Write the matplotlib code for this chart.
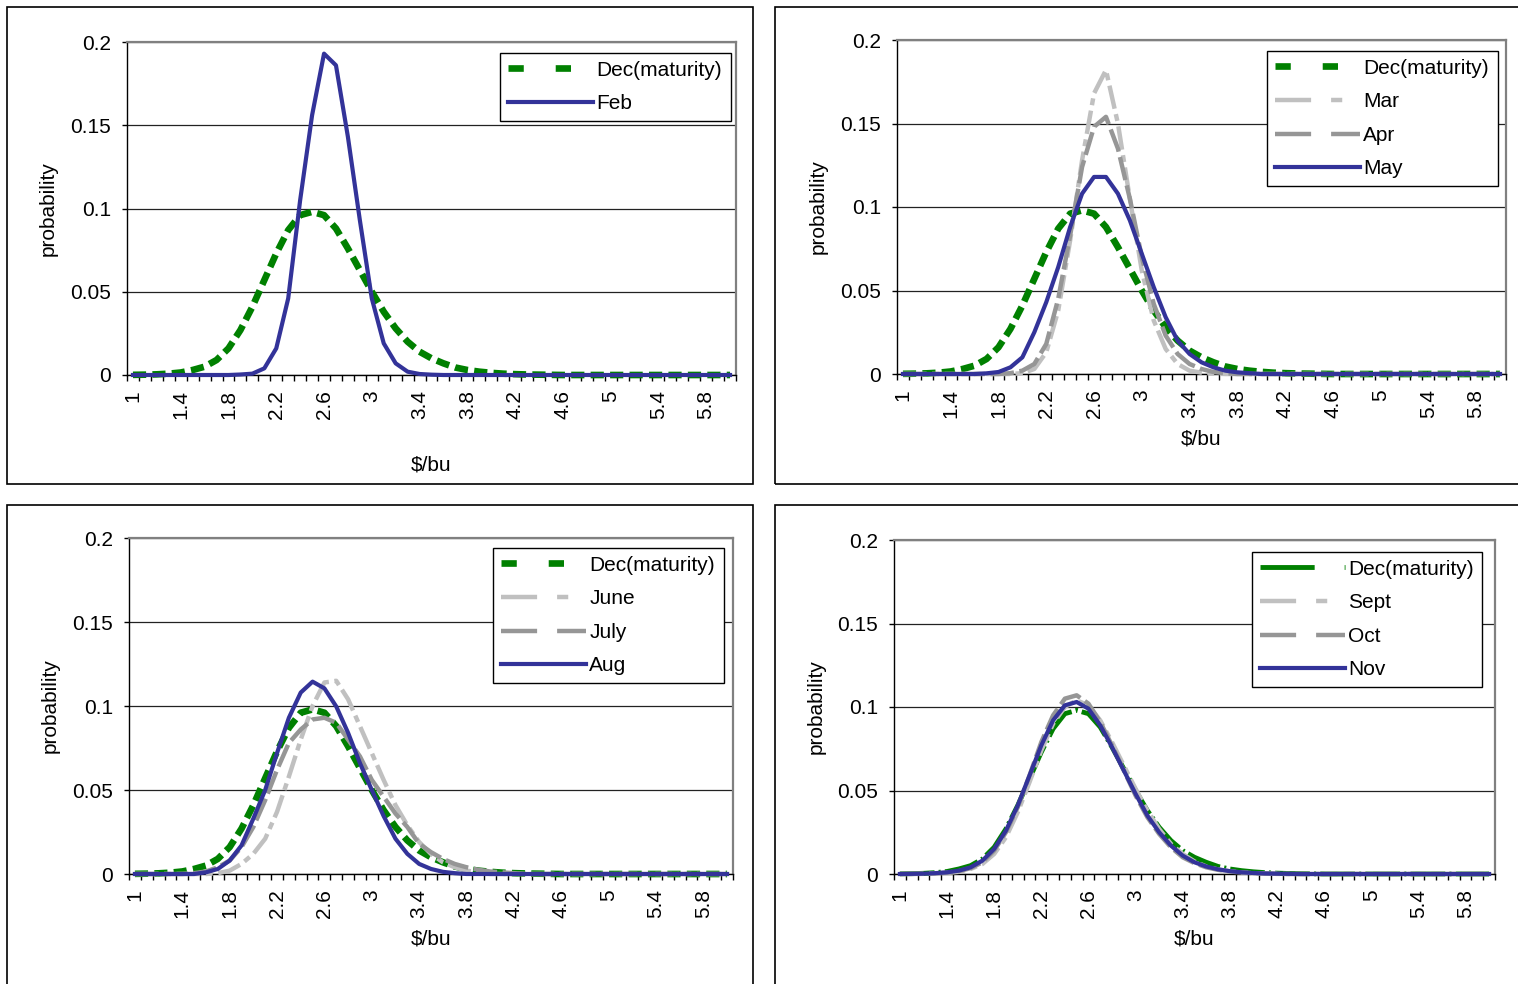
import numpy as np
import matplotlib
matplotlib.use("Agg")
import matplotlib.pyplot as plt
from matplotlib.patches import Rectangle
from matplotlib.lines import Line2D

plt.rcParams['font.family'] = ['Liberation Sans', 'DejaVu Sans']
plt.rcParams['lines.scale_dashes'] = False

# price categories ($/bu), 1.0 .. 6.0 in steps of 0.1
price = [round(1 + 0.1*k, 1) for k in range(51)]
xtick_labels = ['1','1.4','1.8','2.2','2.6','3','3.4','3.8','4.2','4.6','5','5.4','5.8']
ytick_values = [0, 0.05, 0.1, 0.15, 0.2]
ytick_labels = ['0', '0.05', '0.1', '0.15', '0.2']

# probability
dec = [0.0001,0.0002,0.0004,0.0008,0.0015,0.003,0.005,0.009,0.016,0.027,
       0.041,0.057,0.073,0.087,0.096,0.098,0.096,0.088,0.076,0.063,
       0.050,0.038,0.028,0.020,0.014,0.010,0.007,0.0045,0.003,0.002,
       0.0013,0.0008,0.0005,0.0003,0.0002,0.0001,0,0,0,0,
       0,0,0,0,0,0,0,0,0,0,0]
feb = [0,0,0,0,0,0,0,0,0,0.0003,
       0.0008,0.004,0.016,0.046,0.105,0.156,0.193,0.186,0.143,0.093,
       0.046,0.019,0.007,0.002,0.0006,0.0002,0,0,0,0,
       0,0,0,0,0,0,0,0,0,0,
       0,0,0,0,0,0,0,0,0,0,0]
mar = [0,0,0,0,0,0,0,0,0,0,
       0.0005,0.003,0.013,0.038,0.080,0.128,0.168,0.182,0.150,0.105,
       0.062,0.032,0.015,0.006,0.002,0.0008,0.0002,0,0,0,
       0,0,0,0,0,0,0,0,0,0,
       0,0,0,0,0,0,0,0,0,0,0]
apr = [0,0,0,0,0,0,0,0,0,0.0005,
       0.002,0.006,0.018,0.045,0.083,0.124,0.148,0.154,0.135,0.105,
       0.070,0.042,0.023,0.012,0.006,0.003,0.0012,0.0005,0,0,
       0,0,0,0,0,0,0,0,0,0,
       0,0,0,0,0,0,0,0,0,0,0]
may = [0,0,0,0,0,0,0,0.0004,0.0012,0.004,
       0.010,0.025,0.043,0.064,0.088,0.108,0.118,0.118,0.108,0.092,
       0.072,0.052,0.034,0.020,0.012,0.007,0.004,0.002,0.001,0.0005,
       0,0,0,0,0,0,0,0,0,0,
       0,0,0,0,0,0,0,0,0,0,0]
june = [0,0,0,0,0,0,0,0.0005,0.002,0.006,
        0.012,0.021,0.037,0.058,0.080,0.100,0.114,0.115,0.104,0.088,
        0.072,0.056,0.041,0.029,0.019,0.012,0.007,0.004,0.002,0.001,
        0,0,0,0,0,0,0,0,0,0,
        0,0,0,0,0,0,0,0,0,0,0]
july = [0,0,0,0,0,0.0005,0.0015,0.004,0.008,0.016,
        0.028,0.044,0.062,0.078,0.086,0.092,0.093,0.090,0.080,0.070,
        0.056,0.046,0.036,0.028,0.018,0.013,0.009,0.006,0.004,0.0025,
        0.0015,0.001,0.0005,0,0,0,0,0,0,0,
        0,0,0,0,0,0,0,0,0,0,0]
aug = [0,0,0,0,0,0,0.001,0.003,0.008,0.017,
       0.033,0.050,0.072,0.093,0.108,0.1145,0.1105,0.0997,0.084,0.066,
       0.050,0.0345,0.021,0.012,0.006,0.003,0.0013,0.0005,0,0,
       0,0,0,0,0,0,0,0,0,0,
       0,0,0,0,0,0,0,0,0,0,0]
sept = [0,0,0.0001,0.0003,0.0006,0.0013,0.003,0.006,0.012,0.022,
        0.037,0.055,0.074,0.090,0.100,0.104,0.101,0.092,0.079,0.065,
        0.051,0.038,0.027,0.018,0.012,0.0075,0.0045,0.0027,0.0016,0.0009,
        0.0005,0.0003,0.0001,0,0,0,0,0,0,0,
        0,0,0,0,0,0,0,0,0,0,0]
octo = [0,0.0001,0.0002,0.0004,0.0008,0.0017,0.0035,0.007,0.014,0.025,
        0.040,0.059,0.079,0.095,0.105,0.107,0.102,0.091,0.077,0.062,
        0.047,0.034,0.024,0.016,0.010,0.0065,0.004,0.0025,0.0015,0.0009,
        0.0005,0.0003,0.0001,0,0,0,0,0,0,0,
        0,0,0,0,0,0,0,0,0,0,0]
nov = [0,0.0001,0.0002,0.0005,0.001,0.002,0.004,0.008,0.015,0.026,
       0.041,0.059,0.077,0.092,0.101,0.103,0.099,0.089,0.076,0.062,
       0.048,0.035,0.025,0.017,0.011,0.007,0.0045,0.0028,0.0017,0.001,
       0.0006,0.0003,0.0002,0.0001,0,0,0,0,0,0,
       0,0,0,0,0,0,0,0,0,0,0]

GREEN = '#008000'
BLUE = '#333399'
LGRAY = '#C0C0C0'
MGRAY = '#969696'

# (color, linewidth, plot dashes, legend dashes)
S_DEC = (GREEN, 4.8, (9.5, 4.5), (11, 23))
S_DEC2 = (GREEN, 3.5, (25, 3, 1.5, 3), (39, 21.6, 1.5, 21.6))
S_LIGHT = (LGRAY, 3.2, (17, 4, 5, 4), (26, 14.4, 8, 14.4))
S_MID = (MGRAY, 3.2, (17, 4), (26, 14.4))
S_BLUE = (BLUE, 3, None, None)

W, H = 1518, 984
fig = plt.figure(figsize=(W/100, H/100), dpi=100)


def panel(box, frame, series, leg, xlab_top, ylab_x):
    l, t, r, b = box
    ax = fig.add_axes([l/W, 1 - b/H, (r - l)/W, (b - t)/H])
    x = np.arange(len(price))
    handles = []
    for name, vals, (col, lw, dsh, ldsh) in series:
        if dsh is None:
            ax.plot(x, vals, color=col, lw=lw, clip_on=False, zorder=3)
            handles.append(Line2D([], [], color=col, lw=lw, label=name))
        else:
            ax.plot(x, vals, color=col, lw=lw, dashes=dsh, clip_on=False, zorder=3)
            handles.append(Line2D([], [], color=col, lw=lw, dashes=ldsh,
                                  dash_capstyle='butt', label=name))
    ax.set_xlim(-0.5, len(price) - 0.5)
    ax.set_ylim(0, 0.2)
    ax.set_yticks(ytick_values, ytick_labels)
    ax.set_xticks(np.arange(len(price) + 1) - 0.5, [])
    lab_pos = [price.index(float(s)) for s in xtick_labels]
    ax.set_xticks(lab_pos, xtick_labels, minor=True, rotation=90)
    ax.tick_params(axis='x', which='major', length=4.5, width=1, direction='out')
    ax.tick_params(axis='x', which='minor', length=0, pad=11, labelsize=15)
    ax.tick_params(axis='y', length=3.5, width=1, pad=8, labelsize=15)
    ax.yaxis.grid(True, color='#222222', lw=0.9)
    ax.set_axisbelow(True)
    for s in ['left', 'bottom']:
        ax.spines[s].set_color('black')
        ax.spines[s].set_linewidth(1)
    for s in ['top', 'right']:
        ax.spines[s].set_color('#808080')
        ax.spines[s].set_linewidth(1.6)
    ax.set_xlabel('\\$/bu', fontsize=15)
    ax.xaxis.set_label_coords(0.5, (b - xlab_top)/(b - t))
    ax.set_ylabel('probability', fontsize=15)
    ax.yaxis.label.set_va('center')
    ax.yaxis.set_label_coords((ylab_x - l)/(r - l), 0.5)

    lx, ly, lw_ = leg
    lg = ax.legend(handles=handles, loc='upper left', mode='expand',
                   bbox_to_anchor=(lx/W, 1 - ly/H - 0.001, lw_/W, 0.001),
                   bbox_transform=fig.transFigure, fontsize=15,
                   handlelength=4.1, handletextpad=0.15, borderpad=0.37,
                   labelspacing=0.7, fancybox=False, framealpha=1,
                   edgecolor='black', borderaxespad=0)
    lg.get_frame().set_linewidth(1)
    lg.set_zorder(5)

    fl, ft, fr, fb = frame
    fig.add_artist(Rectangle((fl/W, 1 - fb/H), (fr - fl)/W, (fb - ft)/H,
                             transform=fig.transFigure, fill=False,
                             ec='black', lw=1.2))
    return ax


panel((127, 42, 736, 375), (7, 7, 753, 484),
      [('Dec(maturity)', dec, S_DEC), ('Feb', feb, S_BLUE)],
      (500, 53, 231), 455, 48)
panel((897, 40, 1506, 374), (775, 7, 1560, 484),
      [('Dec(maturity)', dec, S_DEC), ('Mar', mar, S_LIGHT),
       ('Apr', apr, S_MID), ('May', may, S_BLUE)],
      (1267, 51, 231), 430, 818)
panel((129, 538, 733, 874), (7, 505, 753, 1000),
      [('Dec(maturity)', dec, S_DEC), ('June', june, S_LIGHT),
       ('July', july, S_MID), ('Aug', aug, S_BLUE)],
      (493, 548, 231), 930, 50)
panel((894, 540, 1495, 874), (775, 505, 1560, 1000),
      [('Dec(maturity)', dec, S_DEC2), ('Sept', sept, S_LIGHT),
       ('Oct', octo, S_MID), ('Nov', nov, S_BLUE)],
      (1252, 552, 230), 930, 816)

fig.savefig('out.png', dpi=100)
